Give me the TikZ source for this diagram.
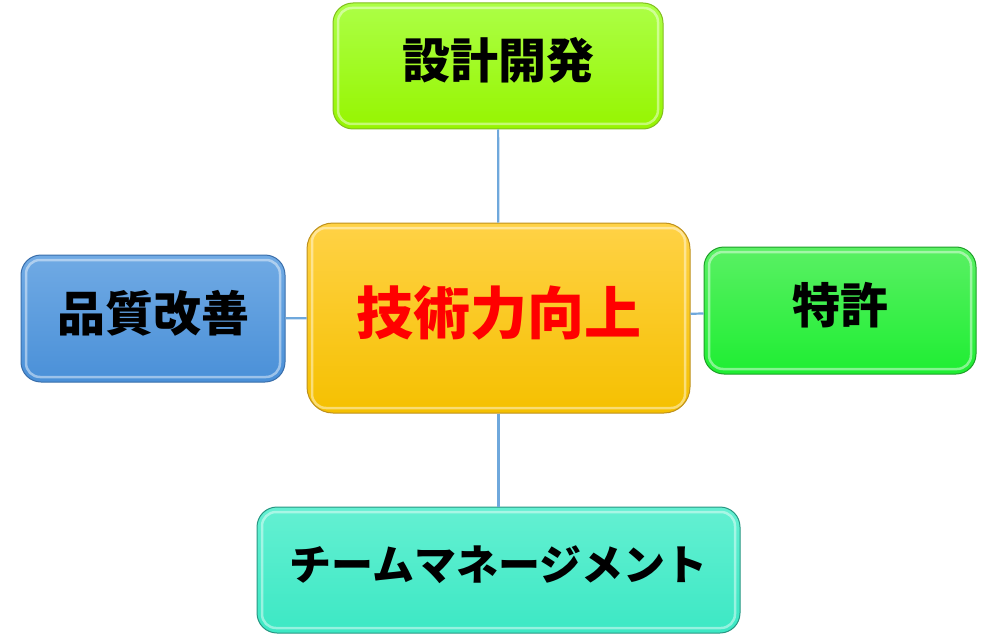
\documentclass[tikz,border=0pt]{standalone}
\usepackage{fontspec}
\setmainfont{Noto Sans CJK JP}
\usepackage{tikz}
\usetikzlibrary{shapes,shadings}

\definecolor{lienbleu}{RGB}{111,168,220}
\definecolor{limehaut}{RGB}{172,255,70}
\definecolor{limebas}{RGB}{150,245,0}
\definecolor{limebord}{RGB}{130,190,30}
\definecolor{orhaut}{RGB}{255,210,70}
\definecolor{orbas}{RGB}{245,192,0}
\definecolor{orbord}{RGB}{190,145,30}
\definecolor{bleuhaut}{RGB}{112,170,228}
\definecolor{bleubas}{RGB}{74,144,216}
\definecolor{bleubord}{RGB}{58,110,170}
\definecolor{verthaut}{RGB}{90,240,100}
\definecolor{vertbas}{RGB}{30,238,50}
\definecolor{vertbord}{RGB}{30,160,40}
\definecolor{turqhaut}{RGB}{100,240,210}
\definecolor{turqbas}{RGB}{60,232,196}
\definecolor{turqbord}{RGB}{40,150,130}

\begin{document}
\begin{tikzpicture}[x=1pt,y=-1pt]
	\tikzstyle{boite}=[rectangle,rounded corners=20pt,draw,line width=1pt,
	text=black,font=\bfseries\fontsize{48}{56}\selectfont,
	text height=32pt,text depth=6pt,
	path picture={\draw[white,opacity=0.45,line width=2.5pt,rounded corners=14pt]
	([shift={(5pt,-5pt)}]path picture bounding box.north west) rectangle
	([shift={(-5pt,5pt)}]path picture bounding box.south east);}]
	\tikzstyle{centre}=[boite,draw=orbord,top color=orhaut,bottom color=orbas,
	rounded corners=26pt,text=red,font=\bfseries\fontsize{57}{66}\selectfont,
	text height=40pt,text depth=7pt,
	minimum width=383pt,minimum height=190pt]
	\tikzstyle{conception}=[boite,draw=limebord,top color=limehaut,
	bottom color=limebas,minimum width=330pt,minimum height=126pt]
	\tikzstyle{qualite}=[boite,draw=bleubord,top color=bleuhaut,
	bottom color=bleubas,minimum width=264pt,minimum height=127pt]
	\tikzstyle{brevet}=[boite,draw=vertbord,top color=verthaut,
	bottom color=vertbas,minimum width=272pt,minimum height=127pt]
	\tikzstyle{equipe}=[boite,draw=turqbord,top color=turqhaut,
	bottom color=turqbas,minimum width=483pt,minimum height=126pt,
	font=\bfseries\fontsize{42}{50}\selectfont,
	text height=27pt,text depth=5.5pt]

	\useasboundingbox (0,0) rectangle (1000,639);

	\node[centre] (a0) at (498.5,318) {技術力向上};
	\node[conception] (a1) at (498,66) {設計開発};
	\node[brevet] (a2) at (840,310.5) {特許};
	\node[qualite] (a3) at (153,318.5) {品質改善};
	\node[equipe] (a4) at (498.5,570) {チームマネージメント};

	\tikzstyle{lien}=[draw=lienbleu,line width=2.2pt]

	\draw[lien] (a0) -- (a1);
	\draw[lien] (a0) -- (a2);
	\draw[lien] (a0) -- (a3);
	\draw[lien] (a0) -- (a4);
\end{tikzpicture}
\end{document}
